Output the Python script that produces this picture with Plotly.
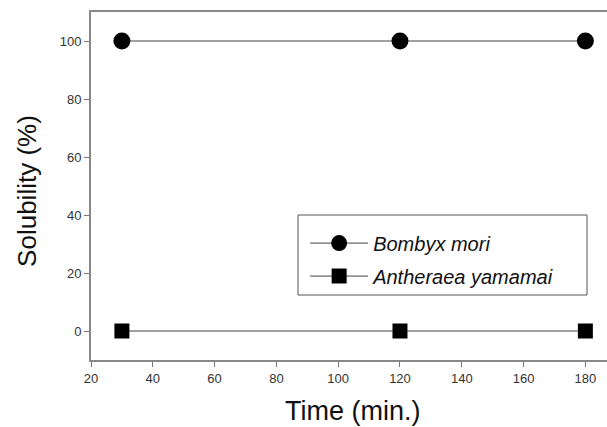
import plotly.graph_objects as go

time_min = [30, 120, 180]
bombyx_mori = [100, 100, 100]
antheraea_yamamai = [0, 0, 0]
x_ticks = [20, 40, 60, 80, 100, 120, 140, 160, 180]
y_ticks = [0, 20, 40, 60, 80, 100]

FONT = "Arial, Liberation Sans, sans-serif"

fig = go.Figure()
fig.add_trace(go.Scatter(
    x=time_min, y=bombyx_mori, name="Bombyx mori", mode="lines+markers",
    legendgroup="a",
    line=dict(color="#444444", width=1),
    marker=dict(symbol="circle", size=17, color="black"),
))
fig.add_trace(go.Scatter(
    x=time_min, y=antheraea_yamamai, name="Antheraea yamamai", mode="lines+markers",
    legendgroup="b",
    line=dict(color="#444444", width=1),
    marker=dict(symbol="square", size=15, color="black"),
))

# plot area: x 91..607 px, y 12..360 px
fig.update_layout(
    width=607, height=427,
    margin=dict(l=91, r=0, t=12, b=67, pad=0),
    paper_bgcolor="white", plot_bgcolor="white",
    font=dict(family=FONT, color="#333333"),
    showlegend=True,
    legend=dict(
        x=0.415, y=0.392, xanchor="left", yanchor="top",
        borderwidth=0, bgcolor="rgba(0,0,0,0)",
        font=dict(family=FONT, size=20, color="#111111", style="italic"),
        tracegroupgap=4,
        traceorder="grouped",
        itemwidth=58,
    ),
    shapes=[
        dict(type="rect", xref="paper", yref="paper",
             x0=(298 - 91) / 516, x1=(587 - 91) / 516,
             y0=(360 - 295) / 348, y1=(360 - 215) / 348,
             line=dict(color="#555555", width=1), fillcolor="white", layer="below"),
    ],
    xaxis=dict(
        range=[20, 187], tickvals=x_ticks, ticks="outside", ticklen=5,
        tickcolor="#777777", showline=True, linecolor="#888888", linewidth=2,
        mirror=True, showgrid=False, zeroline=False,
        tickfont=dict(family=FONT, size=13, color="#333333"),
    ),
    yaxis=dict(
        range=[-10, 110], tickvals=y_ticks, ticks="outside", ticklen=5,
        tickcolor="#777777", showline=True, linecolor="#888888", linewidth=2,
        showgrid=False, zeroline=False,
        tickfont=dict(family=FONT, size=13, color="#333333"),
    ),
    annotations=[
        dict(text="Time (min.)", xref="paper", yref="paper", x=0.508, y=-0.147,
             xanchor="center", yanchor="middle", showarrow=False,
             font=dict(family=FONT, size=27, color="#111111")),
        dict(text="Solubility (%)", xref="paper", yref="paper", x=-0.124, y=0.486,
             xanchor="center", yanchor="middle", showarrow=False, textangle=-90,
             font=dict(family=FONT, size=26, color="#111111")),
    ],
)

fig.write_html("out.html", config={"displayModeBar": False},
               post_script="document.body.style.margin='0';document.body.style.overflow='hidden';")
